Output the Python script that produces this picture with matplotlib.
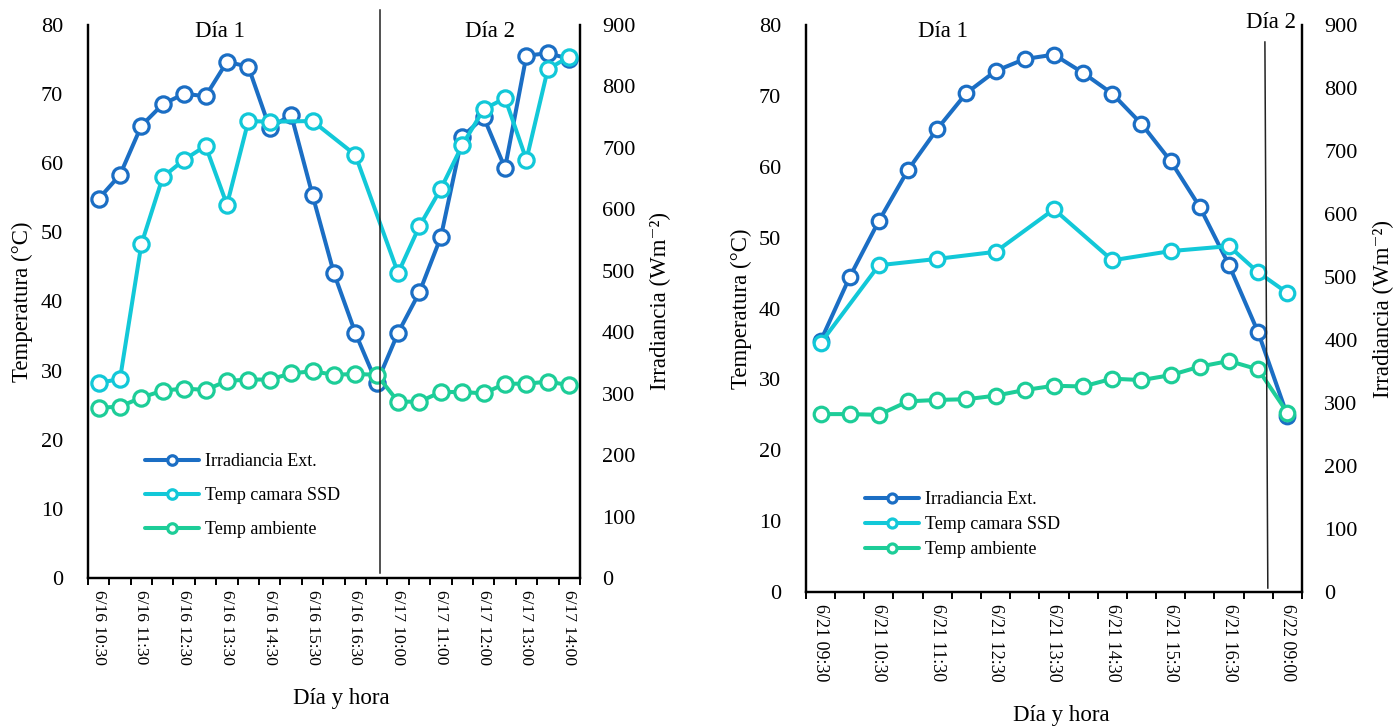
import numpy as np
import matplotlib
matplotlib.use("Agg")
import matplotlib.pyplot as plt
import matplotlib.transforms as mtransforms

plt.rcParams["font.family"] = ["Liberation Serif", "DejaVu Serif"]

nan = np.nan

# --- left chart: 16-17 June, 30 min steps ---
LEFT_TIMES = ["6/16 10:30", "6/16 11:00", "6/16 11:30", "6/16 12:00", "6/16 12:30",
              "6/16 13:00", "6/16 13:30", "6/16 14:00", "6/16 14:30", "6/16 15:00",
              "6/16 15:30", "6/16 16:00", "6/16 16:30", "6/16 17:00",
              "6/17 10:00", "6/17 10:30", "6/17 11:00", "6/17 11:30", "6/17 12:00",
              "6/17 12:30", "6/17 13:00", "6/17 13:30", "6/17 14:00"]
left_irr = [617, 656, 736, 771, 788, 784, 840, 832, 732, 754, 623, 496, 399, 317,
            399, 465, 555, 718, 750, 667, 850, 854, 845]
left_ssd = [28.2, 28.8, 48.3, 58.0, 60.5, 62.5, 54.0, 66.1, 66.0, nan, 66.1, nan, 61.2, nan,
            44.1, 50.9, 56.3, 62.6, 67.8, 69.4, 60.5, 73.6, 75.4]
left_amb = [24.6, 24.8, 26.1, 27.1, 27.4, 27.2, 28.5, 28.7, 28.7, 29.6, 29.9, 29.4, 29.5, 29.4,
            25.5, 25.5, 26.9, 26.9, 26.7, 28.1, 28.1, 28.4, 27.9]

# --- right chart: 21-22 June ---
RIGHT_TIMES = ["6/21 09:30", "6/21 10:00", "6/21 10:30", "6/21 11:00", "6/21 11:30",
               "6/21 12:00", "6/21 12:30", "6/21 13:00", "6/21 13:30", "6/21 14:00",
               "6/21 14:30", "6/21 15:00", "6/21 15:30", "6/21 16:00", "6/21 16:30",
               "6/21 17:00", "6/22 09:00"]
right_irr = [398, 500, 589, 670, 735, 792, 827, 846, 853, 824, 791, 743, 684, 611, 519, 412, 280]
right_ssd = [35.1, nan, 46.1, nan, 47.0, nan, 48.0, nan, 54.0, nan, 46.8, nan, 48.1, nan,
             48.8, 45.1, 42.2]
right_amb = [25.1, 25.1, 25.0, 26.9, 27.1, 27.2, 27.7, 28.5, 29.1, 29.0, 30.1, 29.9, 30.6,
             31.8, 32.6, 31.4, 25.3]

SERIES = ["Irradiancia Ext.", "Temp camara SSD", "Temp ambiente"]
C_IRR, C_SSD, C_AMB = "#1b6ec4", "#12c8d8", "#1dcd98"


def _line(ax, vals, color, label, ms, lw):
    v = np.asarray(vals, dtype=float)
    x = np.arange(len(v))
    ok = ~np.isnan(v)  # Excel connects over the gaps
    return ax.plot(x[ok], v[ok], color=color, lw=lw, marker="o", ms=ms, mew=2.3,
                   mfc="white", mec=color, label=label, solid_capstyle="round")[0]


def panel(rect, times, irr, ssd, amb, days, divider, lab_fs, leg):
    ax = fig.add_axes(rect)
    ax2 = ax.twinx()
    ax.set_zorder(ax2.get_zorder() + 1)
    ax.patch.set_visible(False)
    n = len(times)
    ms, lw = leg["ms"], 2.9
    h1 = _line(ax2, irr, C_IRR, SERIES[0], ms, lw)
    h2 = _line(ax, ssd, C_SSD, SERIES[1], ms, lw)
    h3 = _line(ax, amb, C_AMB, SERIES[2], ms, lw)

    ax.set_xlim(-0.5, n - 0.5)
    ax.set_ylim(0, 80)
    ax2.set_ylim(0, 900)
    ax.set_yticks(range(0, 81, 10))
    ax2.set_yticks(range(0, 901, 100))
    for a in (ax, ax2):
        a.spines["top"].set_visible(False)
        for s in ("left", "right", "bottom"):
            a.spines[s].set_linewidth(1.6)
        a.tick_params(axis="y", length=0, labelsize=16)
    ax.tick_params(axis="y", pad=18)
    ax2.tick_params(axis="y", pad=16)

    # category boundaries carry the tick marks, every 2nd category the label
    ax.set_xticks(np.arange(n + 1) - 0.5)
    ax.set_xticklabels([])
    ax.tick_params(axis="x", which="major", length=5, width=1.4, direction="out")
    lab_idx = list(range(0, n, 2))
    ax.set_xticks(lab_idx, minor=True)
    ax.set_xticklabels([times[i] for i in lab_idx], minor=True, rotation=270,
                       fontsize=lab_fs, va="top", ha="center")
    ax.tick_params(axis="x", which="minor", length=0, pad=9)

    ax.set_ylabel("Temperatura (°C)", fontsize=16.5)
    ax.yaxis.set_label_coords(leg["ylab_l"], 0.5)
    ax2.set_ylabel("Irradiancia (Wm⁻²)", fontsize=16.5)
    ax2.yaxis.set_label_coords(leg["ylab_r"], 0.5)
    ax.set_xlabel("Día y hora", fontsize=16.5)
    ax.xaxis.set_label_coords(0.515, -0.199)

    for txt, x, y in days:
        ax.text(x, y, txt, transform=ax.transAxes, ha="center", va="center", fontsize=16.5)

    tr = mtransforms.blended_transform_factory(ax.transData, ax.transAxes)
    (x0, y0), (x1, y1) = divider
    ax.plot([x0, x1], [y0, y1], color="#222222", lw=1.1, transform=tr, clip_on=False)

    ax.legend([h1, h2, h3], SERIES, loc="upper left", bbox_to_anchor=leg["anchor"],
              frameon=False, fontsize=13, handlelength=3.0, handletextpad=0.3,
              labelspacing=leg["spacing"], markerscale=0.62, borderpad=0, borderaxespad=0)
    return ax


fig = plt.figure(figsize=(13.98, 7.27), dpi=100)

panel([0.0629, 0.2050, 0.3519, 0.7607], LEFT_TIMES, left_irr, left_ssd, left_amb,
      [("Día 1", 0.268, 0.989), ("Día 2", 0.817, 0.989)],
      [(13.15, 1.027), (13.15, 0.009)], 12.6,
      {"ms": 11, "anchor": (0.116, 0.226), "spacing": 0.95,
       "ylab_l": -0.112, "ylab_r": 1.142})

panel([0.5765, 0.1857, 0.3548, 0.7799], RIGHT_TIMES, right_irr, right_ssd, right_amb,
      [("Día 1", 0.276, 0.988), ("Día 2", 0.9375, 1.005)],
      [(15.23, 0.970), (15.33, 0.007)], 13,
      {"ms": 10.5, "anchor": (0.119, 0.178), "spacing": 0.45,
       "ylab_l": -0.109, "ylab_r": 1.143})

fig.savefig("out.png", dpi=100)
